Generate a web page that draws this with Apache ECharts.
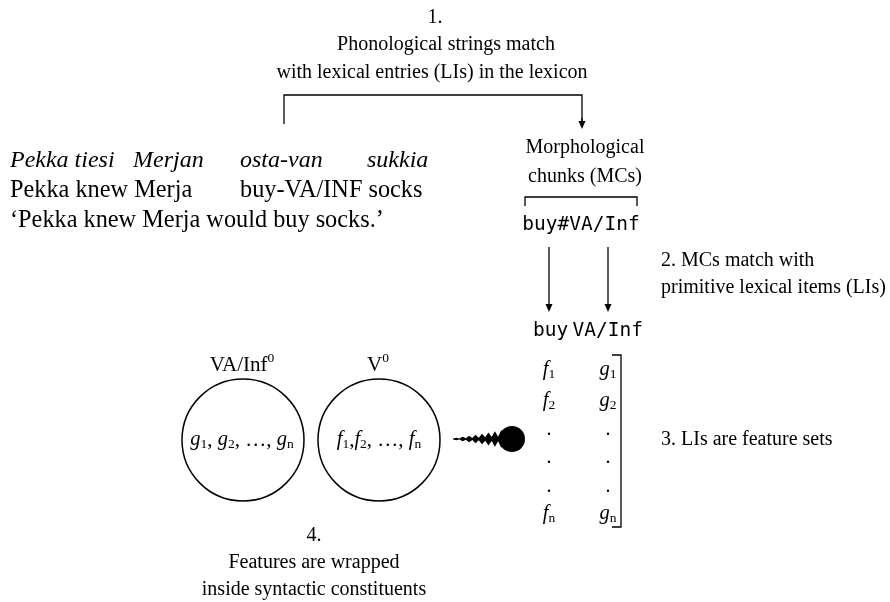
<!DOCTYPE html>
<html>
<head>
<meta charset="utf-8">
<script src="https://cdn.jsdelivr.net/npm/echarts@6/dist/echarts.min.js"></script>
<style>
html,body{margin:0;padding:0;background:#fff;}
#main{width:890px;height:602px;}
</style>
</head>
<body>
<div id="main"></div>
<script>
// texts of the diagram
var headerLines = ['1.', 'Phonological strings match', 'with lexical entries (LIs) in the lexicon'];
var finnishWords = ['Pekka tiesi', 'Merjan', 'osta-van', 'sukkia'];
var glossWords = ['Pekka knew Merja', 'buy-VA/INF socks'];
var translation = '\u2018Pekka knew Merja would buy socks.\u2019';
var mcLabel = ['Morphological', 'chunks (MCs)'];
var mcChunk = 'buy#VA/Inf';
var primitives = ['buy', 'VA/Inf'];
var step2 = ['2. MCs match with', 'primitive lexical items (LIs)'];
var step3 = '3. LIs are feature sets';
var step4 = ['4.', 'Features are wrapped', 'inside syntactic constituents'];
var fFeatures = [['f', '1'], ['f', '2'], ['.', ''], ['.', ''], ['.', ''], ['f', 'n']];
var gFeatures = [['g', '1'], ['g', '2'], ['.', ''], ['.', ''], ['.', ''], ['g', 'n']];
var heads = ['VA/Inf', 'V'];
var headSup = '0';

var SERIF = '"Liberation Serif","Times New Roman",serif';
var MONO = '"DejaVu Sans Mono",monospace';
var fNote = '20px ' + SERIF;
var fHead = '21px ' + SERIF;
var fBig = '24.3px ' + SERIF;
var fBigIt = 'italic 24px ' + SERIF;
var fIt = 'italic 20.5px ' + SERIF;
var fSub = '13.5px ' + SERIF;
var fMono = '19.5px ' + MONO;

var ctx = document.createElement('canvas').getContext('2d');
function tw(t, f){ ctx.font = f; return ctx.measureText(t).width; }

var els = [];
function txt(t, x, y, font){
    els.push({type:'text', x:x, y:y, style:{text:t, font:font, fill:'#000', verticalAlign:'middle'}});
}
// pieces: [text, font, dy]
function runs(x, y, pieces, align){
    var total = 0;
    pieces.forEach(function(p){ total += tw(p[0], p[1]); });
    var cx = align === 'center' ? x - total/2 : (align === 'right' ? x - total : x);
    pieces.forEach(function(p){
        txt(p[0], cx, y + (p[2] || 0), p[1]);
        cx += tw(p[0], p[1]);
    });
}
function line(pts, w){
    els.push({type:'polyline', shape:{points:pts}, style:{stroke:'#000', lineWidth:w || 1.3, fill:null}});
}
function arrowDown(x, y0, y1){
    line([[x, y0], [x, y1 - 6]]);
    els.push({type:'polygon', shape:{points:[[x-3.5, y1-8], [x+3.5, y1-8], [x, y1]]}, style:{fill:'#000'}});
}

// 1. header
runs(435, 18, [[headerLines[0], fNote]], 'center');
runs(446, 45, [[headerLines[1], fNote]], 'center');
runs(432, 73, [[headerLines[2], fNote]], 'center');
line([[284, 124], [284, 95], [582, 95], [582, 122]]);
arrowDown(582, 118, 129);

// Finnish example
var finX = [10, 133, 240, 367];
finnishWords.forEach(function(w, i){ txt(w, finX[i], 161, fBigIt); });
txt(glossWords[0], 10, 191, fBig);
txt(glossWords[1], 240, 191, fBig);
txt(translation, 10, 221, fBig);

// morphological chunks
runs(585, 148, [[mcLabel[0], fNote]], 'center');
runs(585, 177, [[mcLabel[1], fNote]], 'center');
line([[525, 206], [525, 197], [637, 197], [637, 206]]);
runs(581, 225, [[mcChunk, fMono]], 'center');
arrowDown(549, 247, 312);
arrowDown(608, 247, 312);
txt(primitives[0], 533, 331, fMono);
runs(643, 331, [[primitives[1], fMono]], 'right');
txt(step2[0], 661, 261, fNote);
txt(step2[1], 661, 288, fNote);

// feature sets
var rowY = [370, 401, 430, 458, 487, 514];
function featCol(rows, cx){
    rows.forEach(function(r, i){
        if (r[0] === '.') {
            runs(cx, rowY[i], [['.', fNote]], 'center');
        } else {
            runs(cx, rowY[i], [[r[0], fIt], [r[1], fSub, 4]], 'center');
        }
    });
}
featCol(fFeatures, 549);
featCol(gFeatures, 608);
line([[612, 355], [621, 355], [621, 527], [612, 527]]);
txt(step3, 661, 440, fNote);

// circles = syntactic heads
var circX = [243, 379];
circX.forEach(function(cx){
    els.push({type:'circle', shape:{cx:cx, cy:440, r:61}, style:{stroke:'#000', lineWidth:1.5, fill:null}});
});
runs(242, 365, [[heads[0], fHead], [headSup, fSub, -7]], 'center');
runs(378, 365, [[heads[1], fHead], [headSup, fSub, -7]], 'center');
runs(242, 440, [['g', fIt], ['1', fSub, 4], [', ', fHead], ['g', fIt], ['2', fSub, 4], [', \u2026, ', fHead], ['g', fIt], ['n', fSub, 4]], 'center');
runs(379, 440, [['f', fIt], ['1', fSub, 4], [',', fHead], ['f', fIt], ['2', fSub, 4], [', \u2026, ', fHead], ['f', fIt], ['n', fSub, 4]], 'center');

// spiky arrow
var sx0 = 453, sx1 = 511, scy = 439, nT = 9, spikeTop = [], spikeBot = [];
for (var i = 0; i <= 2*nT; i++) {
    var t = i / (2*nT);
    var a = (i % 2) ? 1.0 + 10*Math.pow(t, 1.2) : 0.4 + 2.5*Math.pow(t, 1.2);
    var px = sx0 + (sx1 - sx0)*t;
    spikeTop.push([px, scy - a]);
    spikeBot.unshift([px, scy + a]);
}
els.push({type:'polygon', shape:{points:spikeTop.concat(spikeBot)}, style:{fill:'#000'}});
els.push({type:'circle', shape:{cx:512, cy:scy, r:13}, style:{fill:'#000'}});

// 4. footer
runs(314, 536, [[step4[0], fNote]], 'center');
runs(314, 563, [[step4[1], fNote]], 'center');
runs(314, 590, [[step4[2], fNote]], 'center');

var chart = echarts.init(document.getElementById('main'));
chart.setOption({
    animation:false,
    backgroundColor:'#fff',
    graphic:{elements:els}
});
</script>
</body>
</html>
